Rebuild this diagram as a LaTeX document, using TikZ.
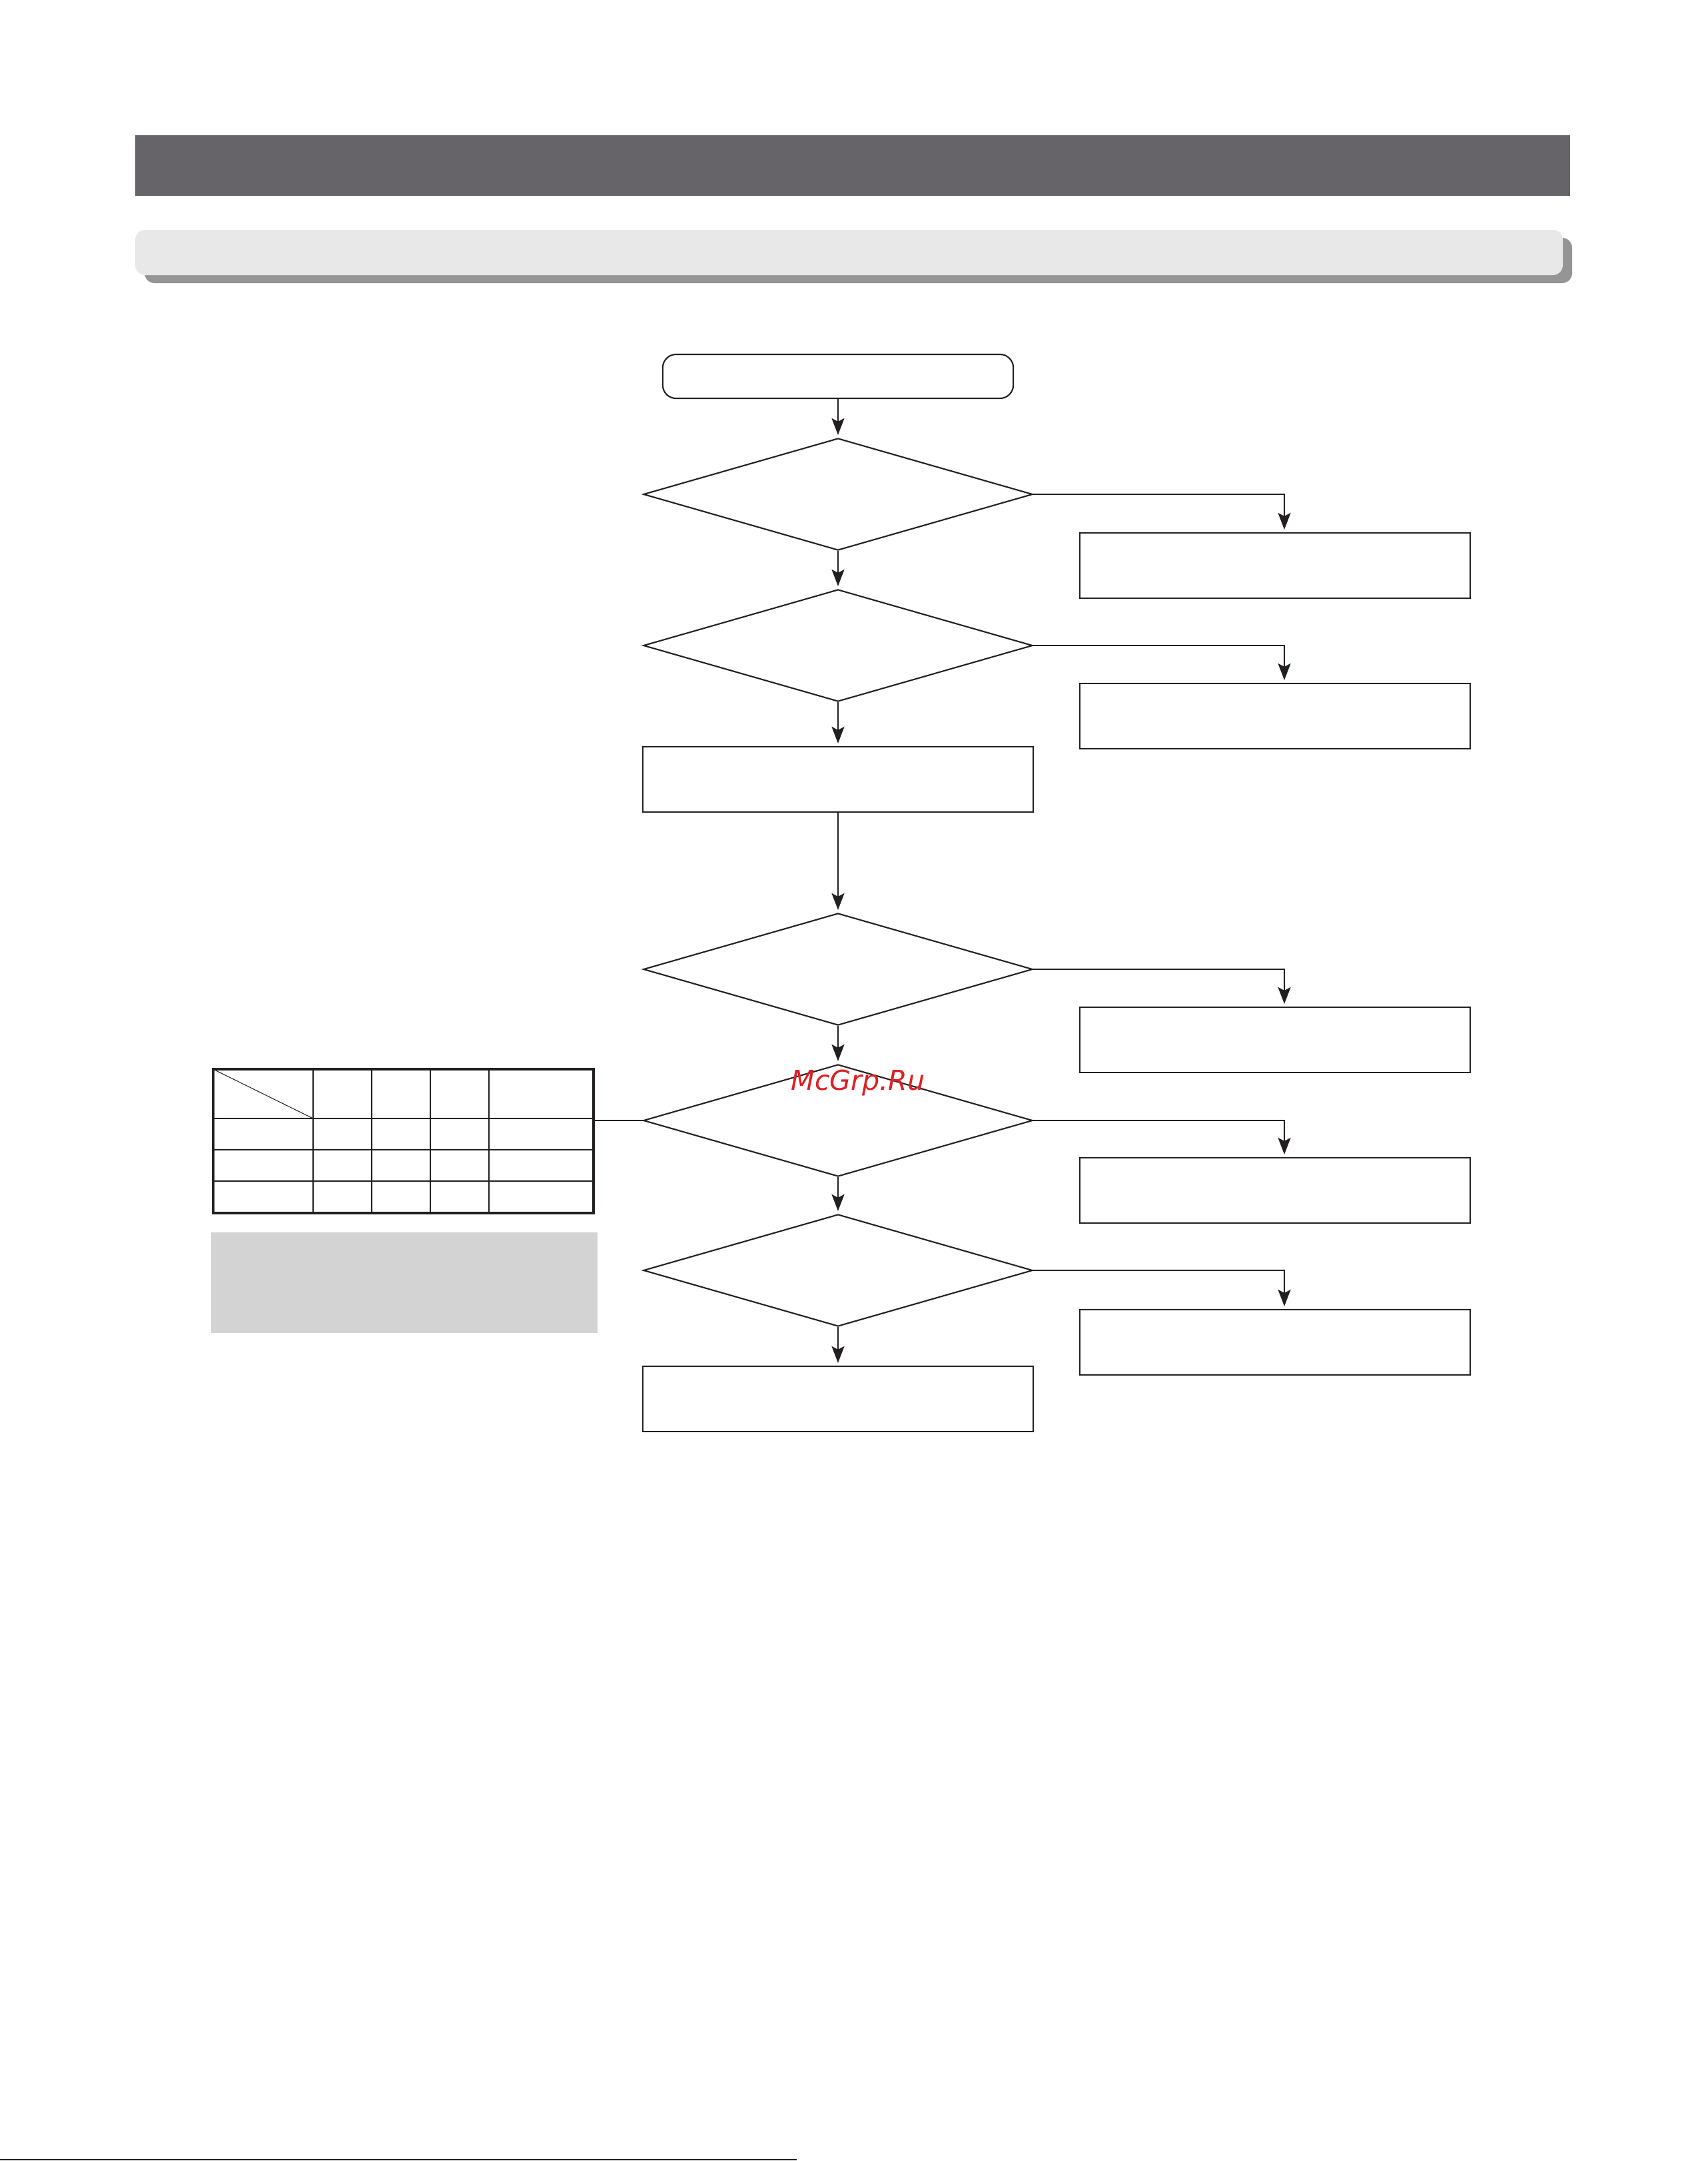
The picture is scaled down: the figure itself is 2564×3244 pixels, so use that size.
\documentclass[tikz,border=0pt]{standalone}
\usepackage{fontspec}
\newfontfamily\wmfont{DejaVu Sans}
\usetikzlibrary{shapes.geometric,arrows.meta}
\definecolor{ink}{RGB}{35,31,32}
\definecolor{darkbar}{RGB}{102,100,104}
\definecolor{lightbar}{RGB}{232,232,232}
\definecolor{barshadow}{RGB}{149,149,149}
\definecolor{notegrey}{RGB}{211,211,211}
\definecolor{wmred}{RGB}{222,32,36}
\begin{document}
\begin{tikzpicture}[x=0.01cm,y=-0.01cm,
  dec/.style={diamond, draw=ink, line width=0.6pt, minimum width=5.84cm, minimum height=1.68cm, inner sep=0pt},
  box/.style={rectangle, draw=ink, line width=0.6pt, minimum width=5.85cm, minimum height=0.98cm, inner sep=0pt},
  startbox/.style={rectangle, rounded corners=0.2cm, draw=ink, line width=0.6pt, minimum width=5.26cm, minimum height=0.66cm, inner sep=0pt},
  conn/.style={draw=ink, line width=0.6pt},
  arr/.style={conn, shorten >=0.04cm, -{Stealth[length=0.25cm,width=0.19cm,inset=0.05cm]}},
  gridline/.style={draw=ink, line width=0.4pt},
]
\useasboundingbox (0,0) rectangle (2564,3244);

% header bars
\fill[darkbar] (203,203) rectangle (2357,294);
\fill[barshadow, rounded corners=0.15cm] (217,357) rectangle (2360,425);
\fill[lightbar, rounded corners=0.15cm] (203,345) rectangle (2346,413);

% flowchart nodes
\node[startbox] (start) at (1258,565) {};
\node[dec] (d1) at (1258,742) {};
\node[dec] (d2) at (1258,969) {};
\node[box] (r1) at (1258,1170) {};
\node[dec] (d3) at (1258,1455) {};
\node[dec] (d4) at (1258,1682) {};
\node[dec] (d5) at (1258,1907) {};
\node[box] (rend) at (1258,2100) {};

\node[box] (b1) at (1914,849) {};
\node[box] (b2) at (1914,1075) {};
\node[box] (b3) at (1914,1561) {};
\node[box] (b4) at (1914,1787) {};
\node[box] (b5) at (1914,2015) {};

% vertical connectors
\draw[arr] (start.south) -- (d1.north);
\draw[arr] (d1.south) -- (d2.north);
\draw[arr] (d2.south) -- (r1.north);
\draw[arr] (r1.south) -- (d3.north);
\draw[arr] (d3.south) -- (d4.north);
\draw[arr] (d4.south) -- (d5.north);
\draw[arr] (d5.south) -- (rend.north);

% side connectors
\draw[arr] (d1.east) -| ([xshift=0.14cm]b1.north);
\draw[arr] (d2.east) -| ([xshift=0.14cm]b2.north);
\draw[arr] (d3.east) -| ([xshift=0.14cm]b3.north);
\draw[arr] (d4.east) -| ([xshift=0.14cm]b4.north);
\draw[arr] (d5.east) -| ([xshift=0.14cm]b5.north);

% table
\node[rectangle, draw=ink, line width=1.15pt, minimum width=5.71cm, minimum height=2.16cm, inner sep=0pt] (tbl) at (605.5,1713) {};
\foreach \cx in {470,558,646,734} \draw[gridline] (\cx,1605) -- (\cx,1821);
\foreach \ry in {1679,1726,1773} \draw[gridline] (320,\ry) -- (891,\ry);
\draw[ink, line width=0.3pt] (320,1605) -- (470,1679);
\draw[conn] (tbl.east |- d4.west) -- (d4.west);

% grey note box
\node[rectangle, fill=notegrey, minimum width=5.80cm, minimum height=1.51cm, inner sep=0pt] (note) at (607,1925.5) {};

% watermark
\node[anchor=base, inner sep=0pt, text=wmred, font=\wmfont\itshape\fontsize{11.7}{14}\selectfont] (wm) at (1288,1636) {McGrp.Ru};

% bottom rule
\draw[ink, line width=0.6pt] (0,3242) -- (1196,3242);
\end{tikzpicture}
\end{document}
